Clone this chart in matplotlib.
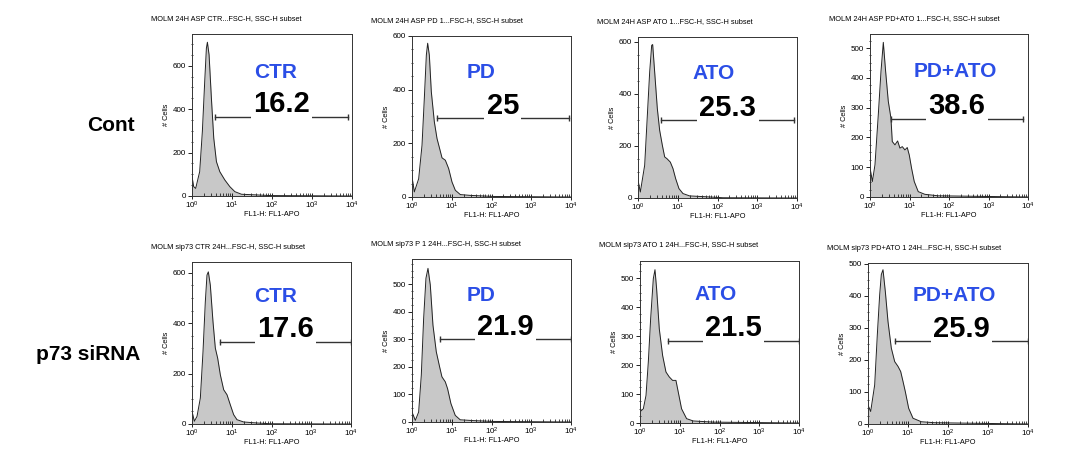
import numpy as np
import matplotlib
matplotlib.use("Agg")
import matplotlib.pyplot as plt
from matplotlib.ticker import LogLocator, MultipleLocator

plt.rcParams['font.family'] = ['Liberation Sans', 'DejaVu Sans']
plt.rcParams['mathtext.default'] = 'regular'

# FL1-APO histograms: log10(FL1) positions and cell counts
cont_ctr_log = [0.0, 0.042, 0.092, 0.192, 0.259, 0.318, 0.360, 0.385, 0.427, 0.485, 0.544,
                0.611, 0.695, 0.820, 0.946, 1.071, 1.238, 1.615, 1.95]
cont_ctr_cells = [90, 43, 35, 112, 297, 528, 681, 708, 650, 450, 266, 158, 112, 74, 43, 20, 8, 5, 2]

cont_pd_log = [0.0, 0.059, 0.168, 0.252, 0.31, 0.361, 0.394, 0.436, 0.486, 0.562, 0.629, 0.696,
               0.755, 0.839, 0.922, 1.006, 1.09, 1.216, 1.467, 2.05]
cont_pd_cells = [75, 19, 68, 193, 367, 529, 573, 529, 392, 280, 218, 180, 146, 137, 106, 56, 25, 9, 6, 2]

cont_ato_log = [0.0, 0.059, 0.168, 0.226, 0.294, 0.344, 0.369, 0.419, 0.486, 0.545, 0.612, 0.671,
                0.73, 0.813, 0.88, 0.948, 1.031, 1.132, 1.3, 1.677, 2.14]
cont_ato_cells = [68, 23, 126, 292, 485, 587, 590, 485, 344, 260, 203, 158, 151, 138, 113, 74, 36,
                  17, 8, 5, 1]

cont_pdato_log = [0.0, 0.06, 0.126, 0.21, 0.278, 0.337, 0.396, 0.463, 0.53, 0.564, 0.632, 0.699,
                  0.758, 0.817, 0.884, 0.943, 0.994, 1.053, 1.12, 1.221, 1.389, 1.726]
cont_pdato_cells = [98, 52, 108, 276, 421, 519, 421, 321, 265, 186, 175, 188, 164, 169, 158, 166,
                    141, 96, 52, 18, 9, 4]

sip_ctr_log = [0.0, 0.059, 0.126, 0.21, 0.277, 0.335, 0.377, 0.411, 0.461, 0.528, 0.587, 0.646,
               0.713, 0.797, 0.881, 0.964, 1.048, 1.132, 1.3, 1.635, 1.97]
sip_ctr_cells = [50, 11, 30, 103, 287, 485, 591, 604, 551, 406, 301, 261, 195, 136, 116, 76, 37,
                 17, 8, 4, 1]

sip_pd_log = [0.0, 0.084, 0.167, 0.234, 0.293, 0.351, 0.402, 0.46, 0.527, 0.611, 0.695, 0.753,
              0.837, 0.895, 0.979, 1.088, 1.213, 1.548, 2.05]
sip_pd_cells = [36, 6, 36, 170, 376, 522, 558, 498, 352, 255, 200, 164, 146, 121, 67, 24, 8, 5, 2]

sip_ato_log = [0.0, 0.084, 0.151, 0.209, 0.268, 0.335, 0.377, 0.418, 0.485, 0.569, 0.653, 0.736,
               0.82, 0.904, 0.962, 1.046, 1.172, 1.339, 1.841]
sip_ato_cells = [38, 49, 95, 210, 360, 498, 529, 463, 325, 233, 176, 159, 147, 147, 107, 49, 15, 7, 3]

sip_pdato_log = [0.0, 0.067, 0.167, 0.233, 0.292, 0.333, 0.375, 0.433, 0.5, 0.583, 0.667, 0.75,
                 0.817, 0.875, 0.933, 1.017, 1.125, 1.333, 1.667]
sip_pdato_cells = [59, 39, 122, 279, 404, 467, 482, 414, 320, 237, 195, 180, 164, 133, 101, 49,
                   18, 7, 4]

titles = ["MOLM 24H ASP CTR...FSC-H, SSC-H subset",
          "MOLM 24H ASP PD 1...FSC-H, SSC-H subset",
          "MOLM 24H ASP ATO 1...FSC-H, SSC-H subset",
          "MOLM 24H ASP PD+ATO 1...FSC-H, SSC-H subset",
          "MOLM sip73 CTR 24H...FSC-H, SSC-H subset",
          "MOLM sip73 P 1 24H...FSC-H, SSC-H subset",
          "MOLM sip73 ATO 1 24H...FSC-H, SSC-H subset",
          "MOLM sip73 PD+ATO 1 24H...FSC-H, SSC-H subset"]
treatments = ["CTR", "PD", "ATO", "PD+ATO"] * 2
percent = ["16.2", "25", "25.3", "38.6", "17.6", "21.9", "21.5", "25.9"]
gate_lo = [3.8, 4.2, 3.9, 3.4, 5.2, 5.0, 5.2, 4.7]
gate_hi = [7900, 8900, 8400, 7400, 10000, 10000, 10000, 9800]
gate_y = [366, 293, 298, 263, 325, 300, 284, 258]
y_max = [746, 600, 619, 547, 643, 592, 559, 503]
y_step = [200, 200, 200, 100, 200, 100, 100, 100]
rows = ["Cont", "p73 siRNA"]

hist_log = [cont_ctr_log, cont_pd_log, cont_ato_log, cont_pdato_log,
            sip_ctr_log, sip_pd_log, sip_ato_log, sip_pdato_log]
hist_cells = [cont_ctr_cells, cont_pd_cells, cont_ato_cells, cont_pdato_cells,
              sip_ctr_cells, sip_pd_cells, sip_ato_cells, sip_pdato_cells]

# axes boxes in pixels: left, top, right, bottom
W, H = 1083, 451
boxes = [(192, 34, 352, 196), (412, 36, 571, 197), (638, 37, 797, 198), (870, 34, 1028, 197),
         (192, 262, 351, 424), (412, 259, 571, 422), (640, 261, 799, 423), (868, 263, 1028, 424)]
label_pos = [(0.525, 0.727), (0.434, 0.74), (0.478, 0.741), (0.54, 0.734),
             (0.528, 0.754), (0.433, 0.742), (0.473, 0.757), (0.542, 0.763)]
blue = '#2b4ee6'
small = 5.3
ticksize = 5.8

fig = plt.figure(figsize=(W / 100, H / 100), dpi=100)

for i in range(8):
    l, t, r, b = boxes[i]
    ax = fig.add_axes([l / W, 1 - b / H, (r - l) / W, (b - t) / H])
    x = 10 ** np.array(hist_log[i] + [4.0])
    y = np.array(hist_cells[i] + [0])
    ax.fill_between(x, y, color='#c8c8c8', lw=0)
    ax.plot(x, y, color='#222222', lw=0.7)
    ax.set_xscale('log')
    ax.set_xlim(1, 1e4)
    ax.set_ylim(0, y_max[i])

    ax.xaxis.set_major_locator(LogLocator(base=10, numticks=6))
    ax.xaxis.set_minor_locator(LogLocator(base=10, subs=np.arange(2, 10), numticks=10))
    ax.yaxis.set_major_locator(MultipleLocator(y_step[i]))
    ax.yaxis.set_minor_locator(MultipleLocator(y_step[i] / 4))
    ax.tick_params(axis='x', which='major', direction='inout', length=4, width=0.6,
                   labelsize=ticksize, pad=1)
    ax.tick_params(axis='x', which='minor', direction='in', length=2, width=0.5)
    ax.tick_params(axis='y', which='major', direction='out', length=3, width=0.6,
                   labelsize=ticksize, pad=1.5)
    ax.tick_params(axis='y', which='minor', direction='inout', length=2, width=0.5)
    for s in ax.spines.values():
        s.set_linewidth(0.7)
        s.set_color('#333333')

    ax.set_xlabel("FL1-H: FL1-APO", fontsize=small, labelpad=0)
    ax.set_ylabel("# Cells", fontsize=small, labelpad=2)
    ax.text(-41 / (r - l), 1 + 15 / (b - t), titles[i], transform=ax.transAxes,
            ha='left', va='center', fontsize=small)

    # gate bar with the percentage sitting on it
    ax.plot([gate_lo[i], gate_hi[i]], [gate_y[i], gate_y[i]], color='#333333', lw=1,
            marker='|', ms=5, mew=1)
    mid = np.sqrt(gate_lo[i] * gate_hi[i])
    ax.annotate(percent[i], xy=(mid, gate_y[i]), xytext=(0, 3.5), textcoords='offset points',
                ha='center', va='baseline', fontsize=21, fontweight='bold',
                bbox=dict(boxstyle='square,pad=0.08', fc='white', ec='none'))
    lx, ly = label_pos[i]
    ax.text(lx, ly, treatments[i], transform=ax.transAxes, ha='center', va='baseline',
            fontsize=15, fontweight='bold', color=blue)

fig.text(111 / W, 1 - 126 / H, rows[0], ha='center', va='center', fontsize=15, fontweight='bold')
fig.text(88 / W, 1 - 355 / H, rows[1], ha='center', va='center', fontsize=15, fontweight='bold')

fig.savefig('out.png', dpi=100)
